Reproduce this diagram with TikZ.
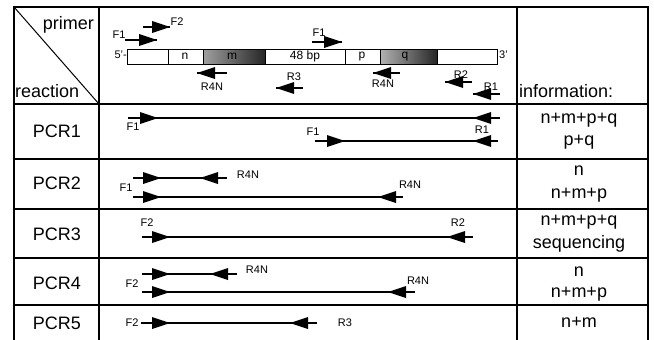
\documentclass[tikz,border=0pt]{standalone}
\usepackage{fontspec}
\setmainfont{Liberation Sans}
\begin{document}
\begin{tikzpicture}[x=1pt,y=-1pt,
  rule/.style={line width=1.6pt},
  thinrule/.style={line width=1pt},
  big/.style={font=\fontsize{18}{20}\selectfont, inner sep=0pt},
  small/.style={font=\fontsize{11}{13}\selectfont, inner sep=0pt},
  seg/.style={font=\fontsize{12}{14}\selectfont, inner sep=0pt},
  strand/.style={line width=1.3pt},
  fwd/.pic={\fill (0,-6) -- (18,0) -- (0,6) -- cycle;},
  rev/.pic={\fill (0,-6) -- (-18,0) -- (0,6) -- cycle;},
]
\useasboundingbox (0,0) rectangle (654,340);

% ---- table frame ----
\draw[rule] (14,340) -- (14,7) -- (648,7) -- (648,340);
\draw[rule] (99,7) -- (99,340);
\draw[rule] (517,7) -- (517,340);
\foreach \yy in {104,159,209,258,305}
  \draw[rule] (14,\yy) -- (648,\yy);
\draw[thinrule] (14,7) -- (99,104);

% ---- header texts ----
\node[big, anchor=east] (hprimer) at (94,25) {primer};
\node[big, anchor=west] (hreaction) at (15,91) {reaction};
\node[big, anchor=west] (hinfo) at (519,91) {information:};

% ---- row labels ----
\node[big] (pcr1) at (57,131) {PCR1};
\node[big] (pcr2) at (57,183) {PCR2};
\node[big] (pcr3) at (57,234) {PCR3};
\node[big] (pcr4) at (57,283) {PCR4};
\node[big] (pcr5) at (57,323) {PCR5};

% ---- information column ----
\node[big] (i1a) at (579,120) {n+m+p+q};
\node[big] (i1b) at (579,142) {p+q};
\node[big] (i2a) at (579,171) {n};
\node[big] (i2b) at (579,195) {n+m+p};
\node[big] (i3a) at (579,222) {n+m+p+q};
\node[big] (i3b) at (579,244) {sequencing};
\node[big] (i4a) at (579,272) {n};
\node[big] (i4b) at (579,294) {n+m+p};
\node[big] (i5a) at (579,322) {n+m};

% ---- sequence bar ----
\shade[left color=gray!75, right color=black!85] (203,49) rectangle (265,64);
\shade[left color=gray!60, middle color=gray!35, right color=black!85] (380,49) rectangle (437,64);
\draw[line width=0.9pt] (127,49) rectangle (497,64);
\foreach \xx in {168,203,265,345,380,437}
  \draw[line width=0.9pt] (\xx,49) -- (\xx,64);
\node[seg] (sn) at (185,56.5) {n};
\node[seg] (sm) at (232,56.5) {m};
\node[seg] (s48) at (305,56.5) {48 bp};
\node[seg] (sp) at (362,56.5) {p};
\node[seg] (sq) at (405,56.5) {q};
\node[small, anchor=east] (five) at (127,55) {5'-};
\node[small, anchor=west] (three) at (499,55) {3'};

% ---- primers on the template ----
\coordinate (f1a0) at (125,40); \coordinate (f1a1) at (157,40);
\draw[strand] (f1a0) -- (f1a1); \pic at (139,40) {fwd};
\node[small] (lf1a) at (119,35) {F1};

\coordinate (f2a0) at (143,27); \coordinate (f2a1) at (170,27);
\draw[strand] (f2a0) -- (f2a1); \pic at (152,27) {fwd};
\node[small] (lf2a) at (177,22) {F2};

\coordinate (f1b0) at (312,42); \coordinate (f1b1) at (342,42);
\draw[strand] (f1b0) -- (f1b1); \pic at (324,42) {fwd};
\node[small] (lf1b) at (319,33) {F1};

\coordinate (r4a0) at (197,73); \coordinate (r4a1) at (227,73);
\draw[strand] (r4a0) -- (r4a1); \pic at (215,73) {rev};
\node[small] (lr4a) at (212,87) {R4N};

\coordinate (r3a0) at (276,88); \coordinate (r3a1) at (303,88);
\draw[strand] (r3a0) -- (r3a1); \pic at (294,88) {rev};
\node[small] (lr3a) at (294,77) {R3};

\coordinate (r4b0) at (373,73); \coordinate (r4b1) at (400,73);
\draw[strand] (r4b0) -- (r4b1); \pic at (391,73) {rev};
\node[small] (lr4b) at (383,84) {R4N};

\coordinate (r2a0) at (445,82); \coordinate (r2a1) at (472,82);
\draw[strand] (r2a0) -- (r2a1); \pic at (463,82) {rev};
\node[small] (lr2a) at (461,75) {R2};

\coordinate (r1a0) at (473,94); \coordinate (r1a1) at (500,94);
\draw[strand] (r1a0) -- (r1a1); \pic at (491,94) {rev};
\node[small] (lr1a) at (491,87) {R1};

% ---- PCR1 ----
\coordinate (p1a0) at (128,118); \coordinate (p1a1) at (500,118);
\draw[strand] (p1a0) -- (p1a1); \pic at (140,118) {fwd}; \pic at (491,118) {rev};
\node[small] (lp1f) at (133,127) {F1};
\coordinate (p1b0) at (315,141); \coordinate (p1b1) at (498,141);
\draw[strand] (p1b0) -- (p1b1); \pic at (327,141) {fwd}; \pic at (491,141) {rev};
\node[small] (lp1f2) at (313,132) {F1};
\node[small] (lp1r) at (482,130) {R1};

% ---- PCR2 ----
\coordinate (p2a0) at (133,178); \coordinate (p2a1) at (227,178);
\draw[strand] (p2a0) -- (p2a1); \pic at (143,178) {fwd}; \pic at (218,178) {rev};
\node[small] (lp2r1) at (248,175) {R4N};
\coordinate (p2b0) at (133,197); \coordinate (p2b1) at (403,197);
\draw[strand] (p2b0) -- (p2b1); \pic at (143,197) {fwd}; \pic at (396,197) {rev};
\node[small] (lp2r2) at (410,185) {R4N};
\node[small] (lp2f) at (126,188) {F1};

% ---- PCR3 ----
\coordinate (p3a0) at (142,237); \coordinate (p3a1) at (473,237);
\draw[strand] (p3a0) -- (p3a1); \pic at (152,237) {fwd}; \pic at (465,237) {rev};
\node[small] (lp3f) at (147,223) {F2};
\node[small] (lp3r) at (458,223) {R2};

% ---- PCR4 ----
\coordinate (p4a0) at (142,274); \coordinate (p4a1) at (237,274);
\draw[strand] (p4a0) -- (p4a1); \pic at (152,274) {fwd}; \pic at (228,274) {rev};
\node[small] (lp4r1) at (257,270) {R4N};
\coordinate (p4b0) at (142,292); \coordinate (p4b1) at (415,292);
\draw[strand] (p4b0) -- (p4b1); \pic at (152,292) {fwd}; \pic at (406,292) {rev};
\node[small] (lp4r2) at (418,281) {R4N};
\node[small] (lp4f) at (132,284) {F2};

% ---- PCR5 ----
\coordinate (p5a0) at (141,323); \coordinate (p5a1) at (317,323);
\draw[strand] (p5a0) -- (p5a1); \pic at (152,323) {fwd}; \pic at (308,323) {rev};
\node[small] (lp5f) at (132,323) {F2};
\node[small] (lp5r) at (345,323) {R3};

\end{tikzpicture}
\end{document}
